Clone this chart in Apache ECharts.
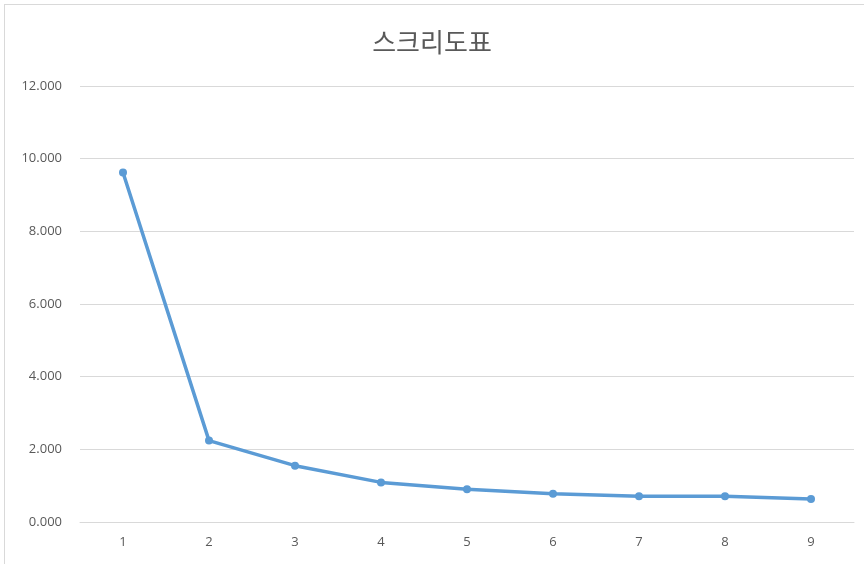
<!DOCTYPE html>
<html><head><meta charset="utf-8">
<script src="https://cdn.jsdelivr.net/npm/echarts@6/dist/echarts.min.js"></script>
<style>html,body{margin:0;padding:0;background:#fff}
#c{width:864px;height:564px;}
#frame{position:absolute;left:4px;top:4px;width:880px;height:600px;border:1px solid #d9d9d9;pointer-events:none}</style>
</head><body><div id="c"></div><div id="frame"></div>
<script>
const title = '스크리도표';
const categories = ['1','2','3','4','5','6','7','8','9'];
const eigenvalues = [9.62, 2.24, 1.55, 1.09, 0.90, 0.78, 0.71, 0.71, 0.63];
const yMin = 0, yMax = 12, yStep = 2;

const chart = echarts.init(document.getElementById('c'));
chart.setOption({
  animation:false,
  title:{text:title,left:'center',top:24,textStyle:{fontFamily:'Noto Sans CJK KR',fontSize:26,fontWeight:'normal',color:'#595959'}},
  grid:{left:80,right:10,top:86,bottom:42},
  xAxis:{type:'category',data:categories,boundaryGap:true,
    axisLine:{lineStyle:{color:'#d9d9d9'}},axisTick:{show:false},
    axisLabel:{color:'#595959',fontSize:13,fontFamily:'Open Sans',margin:14}},
  yAxis:{type:'value',min:yMin,max:yMax,interval:yStep,
    axisLine:{show:false},axisTick:{show:false},
    splitLine:{lineStyle:{color:'#d9d9d9'}},
    axisLabel:{color:'#595959',fontSize:13,fontFamily:'Open Sans',margin:18,formatter:v=>v.toFixed(3)}},
  series:[{type:'line',data:eigenvalues,symbol:'circle',symbolSize:8,
    lineStyle:{color:'#5b9bd5',width:3.5},itemStyle:{color:'#5b9bd5'}}]
});
</script></body></html>
